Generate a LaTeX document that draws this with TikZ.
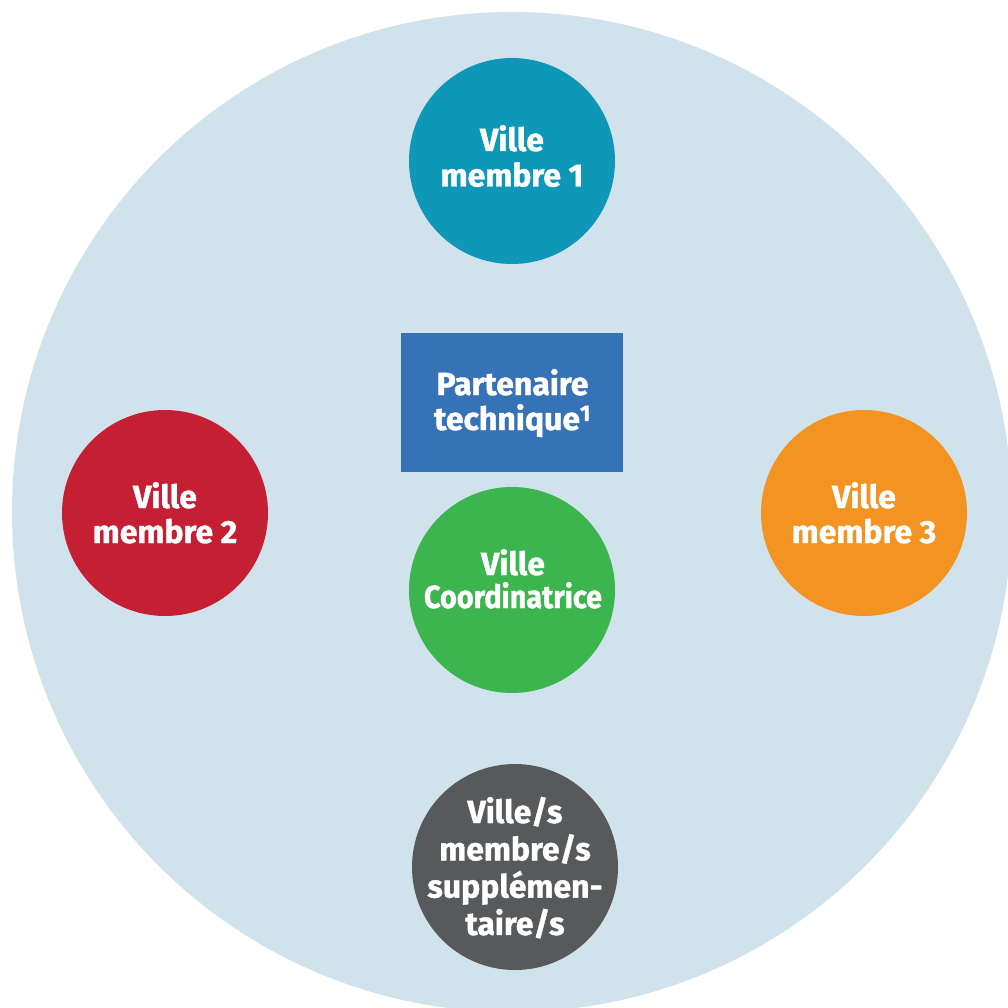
\documentclass[tikz,border=0pt]{standalone}
\usepackage{fontspec}
\usepackage{graphicx}
\setmainfont{Fira Sans}[BoldFeatures={FakeBold=1.2}]
\definecolor{bgblue}{HTML}{D0E2EB}
\definecolor{cteal}{HTML}{0E97B7}
\definecolor{cred}{HTML}{C41F33}
\definecolor{corange}{HTML}{F39322}
\definecolor{cgreen}{HTML}{3CB54E}
\definecolor{cgray}{HTML}{58595B}
\definecolor{cblue}{HTML}{3572B6}
\newcommand\mlines[2]{\vtop{\baselineskip=#1\lineskiplimit=-100pt\relax\halign{\hfil##\hfil\cr#2\crcr}}}
\begin{document}
\begin{tikzpicture}[x=1pt,y=-1pt,
  city/.style={circle,minimum size=206pt,inner sep=0pt},
  partner/.style={rectangle,minimum width=222pt,minimum height=139pt,inner sep=0pt},
  lbl/.style={anchor=base,inner sep=0pt,text=white,font=\fontsize{32}{35}\selectfont\bfseries}]
\useasboundingbox (0,0) rectangle (1008,1008);
\fill[bgblue] (512,512) circle (500);
\node[city,fill=cteal] (v1) at (512,161) {};
\node[city,fill=cred] (v2) at (165,513) {};
\node[city,fill=corange] (v3) at (864,513) {};
\node[city,fill=cgreen] (vc) at (512,590) {};
\node[city,fill=cgray] (vs) at (515,867) {};
\node[partner,fill=cblue] (pt) at (512,402.5) {};
\node[lbl] (t1) at (512,151) {\mlines{35.5pt}{Ville\cr membre 1}};
\node[lbl] (t2) at (165,508) {\mlines{35pt}{Ville\cr membre 2}};
\node[lbl] (t3) at (864,508) {\mlines{35pt}{Ville\cr membre 3}};
\node[lbl] (tc) at (513,575) {\mlines{33pt}{Ville\cr \scalebox{0.9}[1]{Coordinatrice}}};
\node[lbl] (ts) at (515,823) {\mlines{37.3pt}{Ville/s\cr membre/s\cr supplémen-\cr taire/s}};
\node[lbl] (tp) at (512.5,395) {\mlines{35pt}{Partenaire\cr technique\textsuperscript{1}}};
\end{tikzpicture}
\end{document}
